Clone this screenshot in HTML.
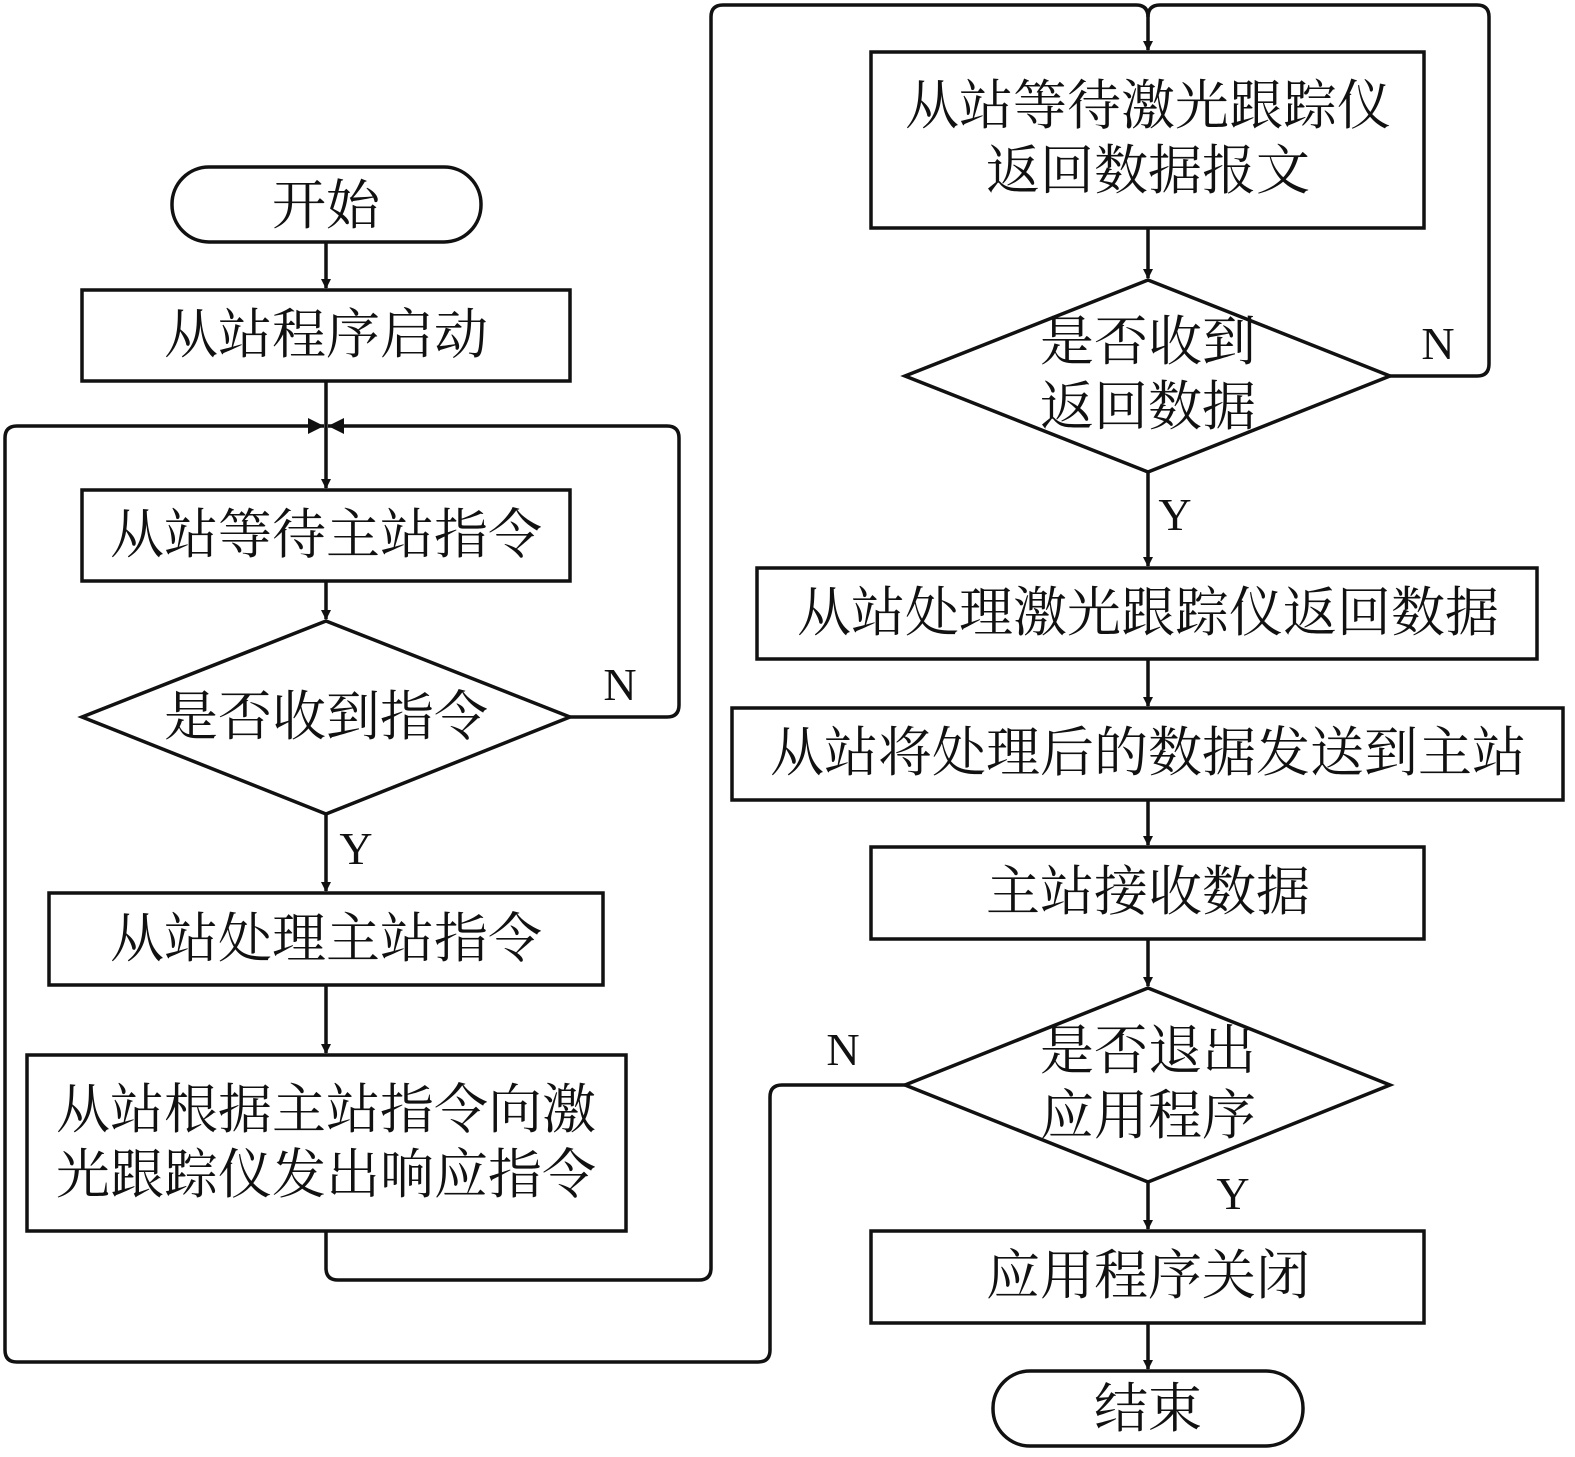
<!DOCTYPE html>
<html><head><meta charset="utf-8"><style>
html,body{margin:0;padding:0;background:#fff}
svg{display:block}
text{font-family:"Liberation Serif","Noto Serif CJK SC",serif;font-size:54px;fill:#111;text-anchor:middle}
.l{font-family:"Liberation Serif",serif;font-size:46px}
</style></head><body>
<svg width="1575" height="1457" viewBox="0 0 1575 1457" xmlns="http://www.w3.org/2000/svg">
<defs><marker id="a" markerWidth="10" markerHeight="10" refX="9" refY="5" orient="auto" markerUnits="userSpaceOnUse" viewBox="0 0 10 10"><path d="M0,0 L10,5 L0,10z" fill="#111"/></marker>
<marker id="b" markerWidth="16" markerHeight="30" refX="16" refY="8" orient="auto" markerUnits="userSpaceOnUse" viewBox="0 0 16 16"><path d="M0,0 L16,8 L0,16z" fill="#111"/></marker></defs>
<g fill="none" stroke="#111" stroke-width="3.5">
<rect x="172" y="167" width="309" height="75" rx="37"/>
<rect x="82" y="290" width="488" height="91"/>
<rect x="82" y="490" width="488" height="91"/>
<polygon points="82,717 326,621 570,717 326,814"/>
<rect x="49" y="893" width="554" height="92"/>
<rect x="27" y="1055" width="599" height="176"/>
<rect x="871" y="52" width="553" height="176"/>
<polygon points="905,376 1148,280 1390,376 1148,472"/>
<rect x="757" y="568" width="780" height="91"/>
<rect x="732" y="708" width="831" height="92"/>
<rect x="871" y="847" width="553" height="92"/>
<polygon points="905,1085 1148,988 1390,1085 1148,1182"/>
<rect x="871" y="1231" width="553" height="92"/>
<rect x="993" y="1371" width="310" height="75" rx="37"/>
<!-- straight arrows -->
<path d="M326 242V288" marker-end="url(#a)"/>
<path d="M326 381V488" marker-end="url(#a)"/>
<path d="M326 581V619" marker-end="url(#a)"/>
<path d="M326 814V891" marker-end="url(#a)"/>
<path d="M326 985V1053" marker-end="url(#a)"/>
<path d="M1148 228V278" marker-end="url(#a)"/>
<path d="M1148 472V566" marker-end="url(#a)"/>
<path d="M1148 659V706" marker-end="url(#a)"/>
<path d="M1148 800V845" marker-end="url(#a)"/>
<path d="M1148 939V986" marker-end="url(#a)"/>
<path d="M1148 1182V1229" marker-end="url(#a)"/>
<path d="M1148 1323V1369" marker-end="url(#a)"/>
<!-- loops -->
<path d="M570 717H667Q679 717 679 705V438Q679 426 667 426H328" marker-end="url(#b)"/>
<path d="M905 1085H782Q770 1085 770 1097V1350Q770 1362 758 1362H17Q5 1362 5 1350V438Q5 426 17 426H324" marker-end="url(#b)"/>
<path d="M326 1231V1268Q326 1280 338 1280H699Q711 1280 711 1268V17Q711 5 723 5H1136Q1148 5 1148 17V50" marker-end="url(#a)"/>
<path d="M1390 376H1477Q1489 376 1489 364V17Q1489 5 1477 5H1160Q1148 5 1148 17"/>
</g>
<text x="326" y="224">开始</text>
<text x="326" y="353">从站程序启动</text>
<text x="326" y="553">从站等待主站指令</text>
<text x="326" y="735">是否收到指令</text>
<text x="326" y="957">从站处理主站指令</text>
<text x="326" y="1128">从站根据主站指令向激</text>
<text x="326" y="1193">光跟踪仪发出响应指令</text>
<text x="1148" y="124">从站等待激光跟踪仪</text>
<text x="1148" y="189">返回数据报文</text>
<text x="1148" y="360">是否收到</text>
<text x="1148" y="425">返回数据</text>
<text x="1148" y="631">从站处理激光跟踪仪返回数据</text>
<text x="1148" y="771">从站将处理后的数据发送到主站</text>
<text x="1148" y="910">主站接收数据</text>
<text x="1148" y="1069">是否退出</text>
<text x="1148" y="1134">应用程序</text>
<text x="1148" y="1294">应用程序关闭</text>
<text x="1148" y="1427">结束</text>
<text class="l" x="620" y="700">N</text>
<text class="l" x="356" y="864">Y</text>
<text class="l" x="1438" y="359">N</text>
<text class="l" x="1175" y="530">Y</text>
<text class="l" x="843" y="1065">N</text>
<text class="l" x="1233" y="1209">Y</text>
</svg>
</body></html>
